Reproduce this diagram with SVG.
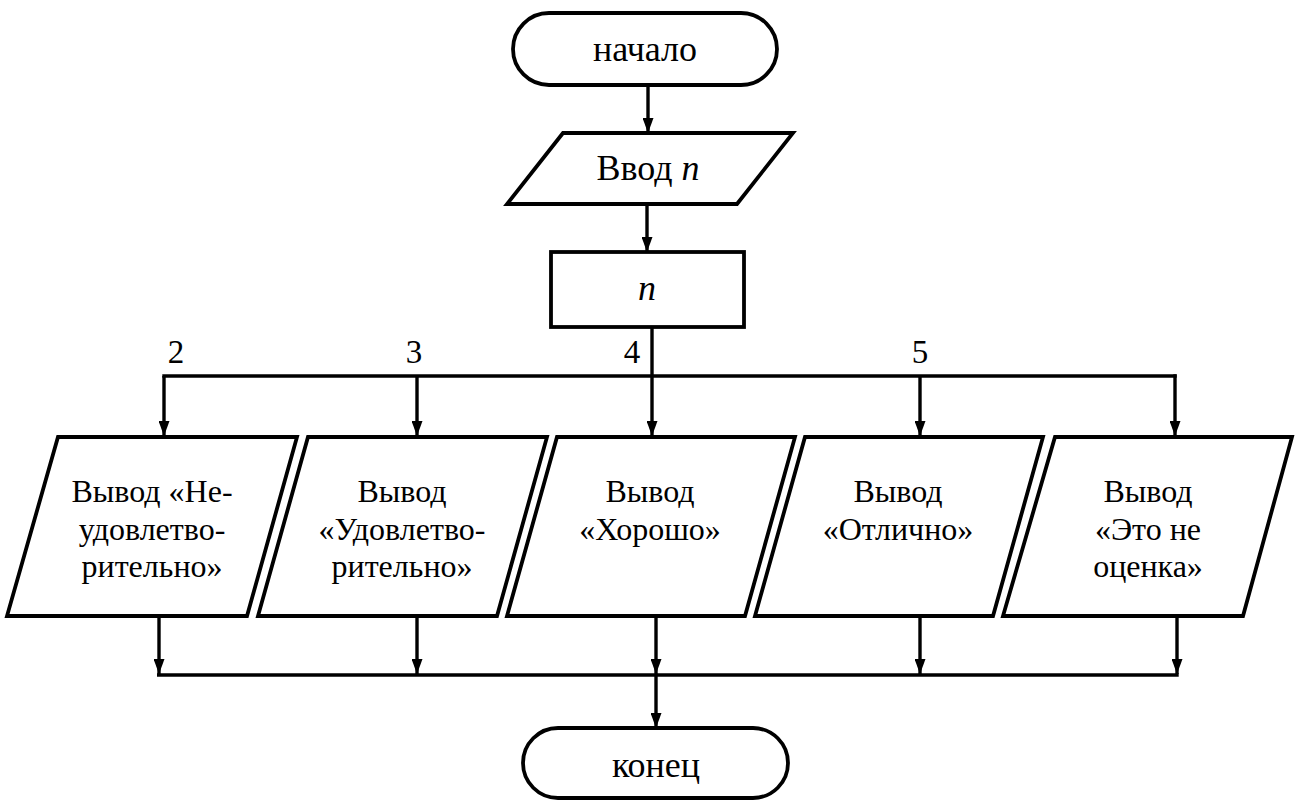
<svg xmlns="http://www.w3.org/2000/svg" width="1295" height="801" viewBox="0 0 1295 801">
  <style>
    .shape { fill: #ffffff; stroke: #000000; stroke-width: 3.8; stroke-linejoin: miter; }
    .line { fill: none; stroke: #000000; stroke-width: 3.4; }
    .arrow { fill: none; stroke: #000000; stroke-width: 3.4; marker-end: url(#head); }
    text { fill: #000000; text-anchor: middle; font-family: 'Liberation Serif', 'Times New Roman', serif; }
    .big { font-size: 36px; }
    .mid { font-size: 32px; }
    .lbl { font-size: 33px; }
    .it { font-style: italic; }
  </style>
  <defs>
    <marker id="head" markerWidth="15" markerHeight="11" refX="15" refY="5.5" orient="auto" markerUnits="userSpaceOnUse" viewBox="0 0 15 11">
      <path d="M0,0 L15,5.5 L0,11 Z" fill="#000000"/>
    </marker>
  </defs>

  <!-- connectors: main flow, case bus on top, merge bus below -->
  <g id="connectors">
    <line class="arrow" x1="648" y1="85" x2="648" y2="133"/>
    <line class="arrow" x1="647" y1="204" x2="647" y2="252"/>
    <line class="line" x1="652" y1="327" x2="652" y2="376"/>
    <line class="line" x1="162.3" y1="376" x2="1176.7" y2="376"/>
    <line class="arrow" x1="164" y1="376" x2="164" y2="436"/>
    <line class="arrow" x1="417" y1="376" x2="417" y2="436"/>
    <line class="arrow" x1="652" y1="376" x2="652" y2="436"/>
    <line class="arrow" x1="920" y1="376" x2="920" y2="436"/>
    <line class="arrow" x1="1175" y1="374.3" x2="1175" y2="436"/>
    <line class="arrow" x1="159" y1="616" x2="159" y2="674"/>
    <line class="arrow" x1="417" y1="616" x2="417" y2="674"/>
    <line class="arrow" x1="656" y1="616" x2="656" y2="674"/>
    <line class="arrow" x1="920" y1="616" x2="920" y2="674"/>
    <line class="arrow" x1="1177" y1="616" x2="1177" y2="674"/>
    <line class="line" x1="157" y1="675" x2="1178.7" y2="675"/>
    <line class="arrow" x1="656" y1="675" x2="656" y2="728"/>
    <text class="lbl" x="176" y="363">2</text>
    <text class="lbl" x="414" y="363">3</text>
    <text class="lbl" x="632" y="363">4</text>
    <text class="lbl" x="920" y="363">5</text>
  </g>

  <!-- start -->
  <g id="start">
    <rect class="shape" x="513" y="13" width="264" height="72" rx="36" ry="36"/>
    <text class="big" x="645" y="61">начало</text>
  </g>

  <!-- input n -->
  <g id="input">
    <polygon class="shape" points="563,133 793,133 737,204 507,204"/>
    <text class="big" x="648" y="180">Ввод <tspan class="it">n</tspan></text>
  </g>

  <!-- selector -->
  <g id="select">
    <rect class="shape" x="551" y="252" width="193" height="75"/>
    <text class="big it" x="647" y="300">n</text>
  </g>

  <!-- outputs -->
  <g id="out2">
    <polygon class="shape" points="58,437 297,437 247,616 7,616"/>
    <text class="mid" x="152" y="502">Вывод «Не-</text>
    <text class="mid" x="152" y="540">удовлетво-</text>
    <text class="mid" x="152" y="577">рительно»</text>
  </g>
  <g id="out3">
    <polygon class="shape" points="308,437 547,437 497,616 258,616"/>
    <text class="mid" x="402" y="502">Вывод</text>
    <text class="mid" x="402" y="540">«Удовлетво-</text>
    <text class="mid" x="402" y="577">рительно»</text>
  </g>
  <g id="out4">
    <polygon class="shape" points="557,437 795,437 745,616 507,616"/>
    <text class="mid" x="650" y="502">Вывод</text>
    <text class="mid" x="650" y="540">«Хорошо»</text>
  </g>
  <g id="out5">
    <polygon class="shape" points="805,437 1043,437 993,616 755,616"/>
    <text class="mid" x="898" y="502">Вывод</text>
    <text class="mid" x="898" y="540">«Отлично»</text>
  </g>
  <g id="outOther">
    <polygon class="shape" points="1055,437 1292,437 1243,616 1003,616"/>
    <text class="mid" x="1148" y="502">Вывод</text>
    <text class="mid" x="1148" y="540">«Это не</text>
    <text class="mid" x="1148" y="577">оценка»</text>
  </g>

  <!-- end -->
  <g id="end">
    <rect class="shape" x="523" y="728" width="265" height="70" rx="35" ry="35"/>
    <text class="big" x="656" y="777">конец</text>
  </g>
</svg>
